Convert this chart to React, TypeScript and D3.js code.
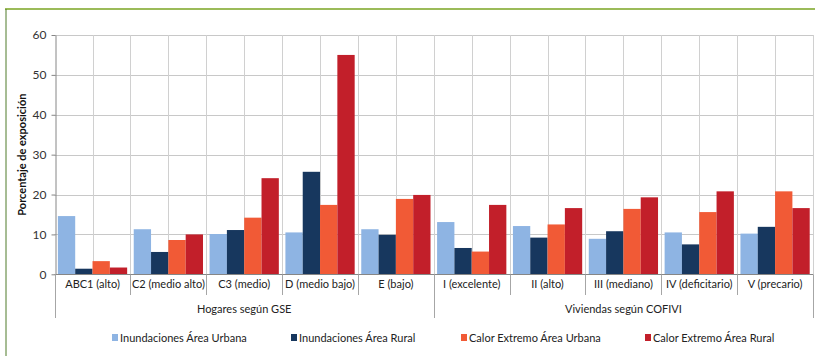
import { useEffect, useRef } from "react";
import * as d3 from "d3";

const categories = [
  "ABC1 (alto)",
  "C2 (medio alto)",
  "C3 (medio)",
  "D (medio bajo)",
  "E (bajo)",
  "I (excelente)",
  "II (alto)",
  "III (mediano)",
  "IV (deficitario)",
  "V (precario)",
];
const groups = [
  { label: "Hogares según GSE", size: 5 },
  { label: "Viviendas según COFIVI", size: 5 },
];
const seriesNames = [
  "Inundaciones Área Urbana",
  "Inundaciones Área Rural",
  "Calor Extremo Área Urbana",
  "Calor Extremo Área Rural",
];
const inundUrbana = [14.6, 11.3, 10.1, 10.5, 11.3, 13.1, 12.1, 8.9, 10.5, 10.2];
const inundRural = [1.4, 5.6, 11.1, 25.7, 9.9, 6.6, 9.2, 10.8, 7.5, 11.9];
const calorUrbana = [3.3, 8.6, 14.2, 17.4, 18.9, 5.7, 12.5, 16.4, 15.6, 20.8];
const calorRural = [1.7, 10.0, 24.1, 55.0, 19.9, 17.4, 16.6, 19.3, 20.8, 16.6];
const yTicks = [0, 10, 20, 30, 40, 50, 60];
const colors = ["#8eb4e3", "#17375e", "#f15a36", "#c21f2a"];

const W = 815;
const H = 356;
const font = "Lato, 'Open Sans', sans-serif";

export default function App() {
  const ref = useRef<SVGSVGElement>(null);
  const values = [inundUrbana, inundRural, calorUrbana, calorRural];

  const left = 54.6;
  const right = 813;
  const top = 35;
  const bottom = 274.3;

  const x = d3.scaleBand<string>().domain(categories).range([left, right]).paddingInner(0).paddingOuter(0);
  const xs = d3
    .scaleBand<number>()
    .domain([0, 1, 2, 3])
    .range([0, x.bandwidth()])
    .paddingInner(0)
    .paddingOuter(0.19);
  const y = d3.scaleLinear().domain([0, 60]).range([bottom, top]);

  useEffect(() => {
    const svg = d3.select(ref.current);
    svg.selectAll("*").remove();

    // frame
    svg.append("line").attr("x1", 5).attr("x2", W).attr("y1", 9).attr("y2", 9)
      .attr("stroke", "#9bbb59").attr("stroke-width", 2);
    svg.append("line").attr("x1", 6).attr("x2", 6).attr("y1", 9).attr("y2", H)
      .attr("stroke", "#4f7a28").attr("stroke-width", 1);

    // horizontal gridlines
    svg.append("g").selectAll("line").data(yTicks.slice(1)).join("line")
      .attr("x1", left).attr("x2", right)
      .attr("y1", (d) => Math.round(y(d)) + 0.5).attr("y2", (d) => Math.round(y(d)) + 0.5)
      .attr("stroke", "#c8c8c8");

    // vertical gridlines at category edges and centers
    const vlines: number[] = [];
    categories.forEach((c) => {
      vlines.push(x(c)!);
      vlines.push(x(c)! + x.bandwidth() / 2);
    });
    vlines.push(right);
    svg.append("g").selectAll("line").data(vlines.slice(1)).join("line")
      .attr("x1", (d) => Math.round(d) + 0.5).attr("x2", (d) => Math.round(d) + 0.5)
      .attr("y1", top).attr("y2", bottom)
      .attr("stroke", "#d0d0d0");

    // bars
    values.forEach((vals, si) => {
      svg.append("g").attr("fill", colors[si]).selectAll("rect").data(vals).join("rect")
        .attr("x", (_, i) => x(categories[i])! + xs(si)!)
        .attr("width", xs.bandwidth())
        .attr("y", (d) => y(d))
        .attr("height", (d) => y(0) - y(d));
    });

    // y axis
    const yAxis = svg.append("g").attr("transform", `translate(${Math.round(left) + 0.5},0)`)
      .call(d3.axisLeft(y).tickValues(yTicks).tickSize(4).tickSizeOuter(0));
    yAxis.select(".domain").attr("stroke", "#868686");
    yAxis.selectAll(".tick line").attr("stroke", "#868686");
    yAxis.selectAll(".tick text").attr("font-family", font).attr("font-size", 12).attr("fill", "#333").attr("dx", -2);

    // category axis
    const axisY = Math.round(bottom) + 0.5;
    svg.append("line").attr("x1", left).attr("x2", right).attr("y1", axisY).attr("y2", axisY).attr("stroke", "#868686");
    const catTicks = categories.map((c) => x(c)!).concat([right]);
    svg.append("g").selectAll("line").data(catTicks).join("line")
      .attr("x1", (d) => Math.round(d) + 0.5).attr("x2", (d) => Math.round(d) + 0.5)
      .attr("y1", axisY).attr("y2", 295)
      .attr("stroke", "#a6a6a6");
    svg.append("g").selectAll("text").data(categories).join("text")
      .attr("x", (d) => x(d)! + x.bandwidth() / 2)
      .attr("y", 287.5)
      .attr("text-anchor", "middle")
      .attr("font-family", font).attr("font-size", 11).attr("fill", "#222")
      .text((d) => d);

    // group row
    let start = 0;
    const gEdges: number[] = [x(categories[0])!];
    groups.forEach((g) => {
      const x0 = x(categories[start])!;
      const x1 = x(categories[start + g.size - 1])! + x.bandwidth();
      gEdges.push(x1);
      svg.append("text").attr("x", (x0 + x1) / 2).attr("y", 313)
        .attr("text-anchor", "middle")
        .attr("font-family", font).attr("font-size", 11).attr("fill", "#222")
        .text(g.label);
      start += g.size;
    });
    svg.append("g").selectAll("line").data(gEdges).join("line")
      .attr("x1", (d) => Math.round(d) + 0.5).attr("x2", (d) => Math.round(d) + 0.5)
      .attr("y1", axisY).attr("y2", 318)
      .attr("stroke", "#a6a6a6");

    // y title
    svg.append("text")
      .attr("transform", `translate(26,${(top + bottom) / 2}) rotate(-90)`)
      .attr("text-anchor", "middle")
      .attr("font-family", font).attr("font-size", 11).attr("font-weight", "bold").attr("fill", "#111")
      .text("Porcentaje de exposición");

    // legend
    const legendX = [112, 291, 461, 645];
    const lg = svg.append("g").selectAll("g").data(seriesNames).join("g")
      .attr("transform", (_, i) => `translate(${legendX[i]},338)`);
    lg.append("rect").attr("x", 0).attr("y", -4).attr("width", 6).attr("height", 7).attr("fill", (_, i) => colors[i]);
    lg.append("text").attr("x", 8).attr("y", 4)
      .attr("font-family", font).attr("font-size", 11).attr("fill", "#222")
      .text((d) => d);
  }, []);

  return <svg ref={ref} width={W} height={H} style={{ display: "block", position: "absolute", left: 0, top: 0 }} />;
}
